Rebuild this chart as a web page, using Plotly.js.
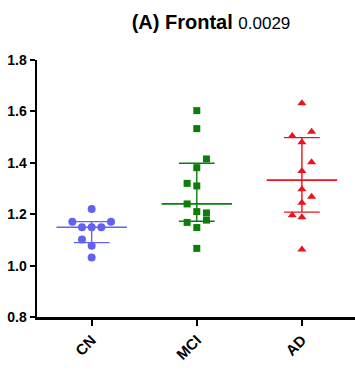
<!DOCTYPE html>
<html>
<head>
<meta charset="utf-8">
<script src="https://cdn.plot.ly/plotly-3.0.1.min.js"></script>
<style>html,body{margin:0;padding:0;background:#fff;}#chart{width:355px;height:375px;}</style>
</head>
<body>
<div id="chart"></div>
<script>
// Data
const categories = ["CN", "MCI", "AD"];
const cnValues  = [1.220, 1.171, 1.171, 1.149, 1.149, 1.149, 1.102, 1.077, 1.032];
const cnCols    = [0, -2, 2, -1, 0, 1, -1, 0, 0];
const mciValues = [1.603, 1.533, 1.415, 1.381, 1.320, 1.310, 1.240, 1.210, 1.205, 1.177, 1.168, 1.148, 1.067];
const mciCols   = [0, 0, 1, 0, -1, 0, -1, 0, 1, 1, -1, 0, 0];
const adValues  = [1.632, 1.521, 1.504, 1.480, 1.402, 1.368, 1.297, 1.268, 1.245, 1.196, 1.188, 1.063];
const adCols    = [0, 1, -1, 0, 1, 0, 0, 1, 0, -1, 0, 0];
const yTicks = [0.8, 1.0, 1.2, 1.4, 1.6, 1.8];
const titleMain = "(A) Frontal";
const titleP = "0.0029";

const groups = [
  {vals: cnValues, cols: cnCols, color: "#6262F2", symbol: "circle", size: 8},
  {vals: mciValues, cols: mciCols, color: "#0A7D0A", symbol: "square", size: 7},
  {vals: adValues, cols: adCols, color: "#E8141E", symbol: "triangle-up", size: 8}
];

function quant(sorted, p) {
  const n = sorted.length;
  let pos = p * (n + 1);
  if (pos < 1) pos = 1;
  if (pos > n) pos = n;
  const lo = Math.floor(pos), hi = Math.ceil(pos);
  return sorted[lo - 1] + (pos - lo) * (sorted[hi - 1] - sorted[lo - 1]);
}

const colStep = 0.092;
const medHalf = 0.335, whHalf = 0.17;
const traces = [];
groups.forEach((g, i) => {
  const s = g.vals.slice().sort((a, b) => a - b);
  const med = quant(s, 0.5), q1 = quant(s, 0.25), q3 = quant(s, 0.75);
  const lc = g.color;
  traces.push({x: [i - medHalf, i + medHalf], y: [med, med], mode: "lines", line: {color: lc, width: 1.6}, hoverinfo: "skip"});
  traces.push({x: [i - whHalf, i + whHalf, null, i - whHalf, i + whHalf, null, i, i],
               y: [q1, q1, null, q3, q3, null, q1, q3], mode: "lines", line: {color: lc, width: 1.4}, hoverinfo: "skip"});
  traces.push({
    x: g.cols.map(c => i + c * colStep), y: g.vals, mode: "markers",
    marker: {color: g.color, symbol: g.symbol, size: g.size, line: {width: 0}}
  });
});

const layout = {
  width: 355, height: 375,
  margin: {l: 37, r: 0, t: 60, b: 58},
  showlegend: false,
  paper_bgcolor: "#fff", plot_bgcolor: "#fff",
  font: {family: "Liberation Sans, Arial, sans-serif", color: "#000"},
  title: {
    text: "<b>" + titleMain + "</b> <span style='font-size:17px'>" + titleP + "</span>",
    font: {size: 20, family: "Liberation Sans, Arial, sans-serif", color: "#000"},
    x: 211 / 355, xanchor: "center", y: 1 - 22 / 375, yanchor: "middle"
  },
  xaxis: {
    range: [-0.52, 2.505], tickmode: "array", tickvals: [0, 1, 2], ticktext: categories,
    showline: true, linecolor: "#000", linewidth: 2.5, ticks: "outside", ticklen: 6, tickwidth: 2, tickcolor: "#000",
    tickangle: -45, tickfont: {size: 15, weight: "bold"}, showgrid: false, zeroline: false, fixedrange: true
  },
  yaxis: {
    range: [0.8, 1.8], tickmode: "array", tickvals: yTicks, ticktext: yTicks.map(v => v.toFixed(1)),
    showline: true, linecolor: "#000", linewidth: 2.5, ticks: "outside", ticklen: 5, tickwidth: 2, tickcolor: "#000",
    tickfont: {size: 14, weight: "bold"}, showgrid: false, zeroline: false, fixedrange: true
  }
};
Plotly.newPlot("chart", traces, layout, {displayModeBar: false, staticPlot: true});
</script>
</body>
</html>
